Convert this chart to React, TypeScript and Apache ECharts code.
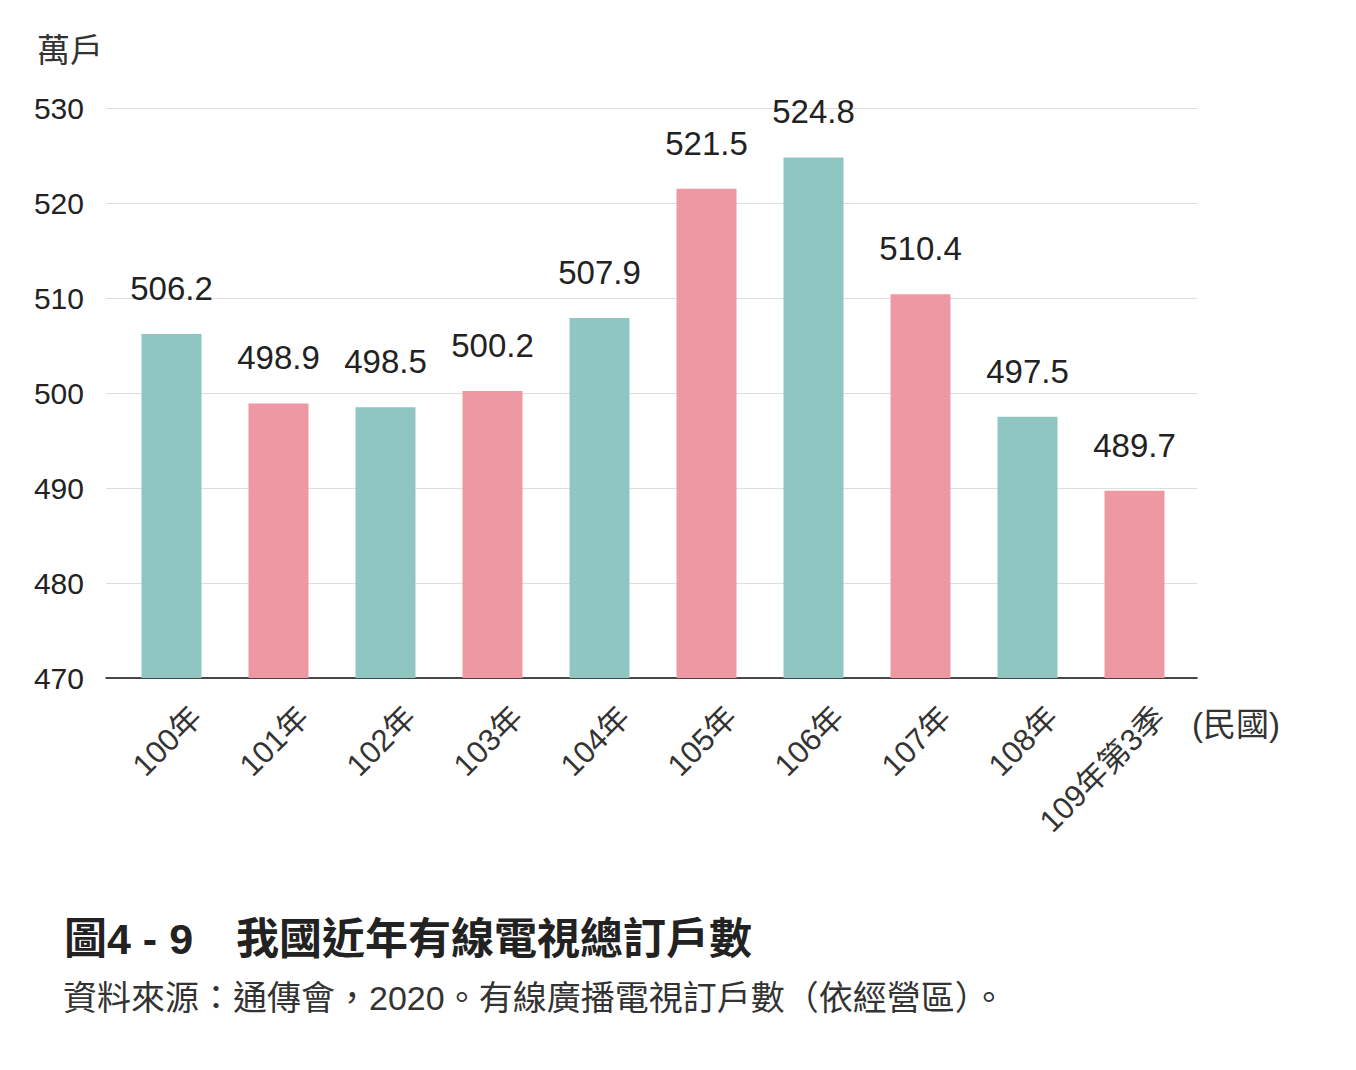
import React, { useEffect, useRef } from "react";
import * as echarts from "echarts";

const categories = ["100年", "101年", "102年", "103年", "104年", "105年", "106年", "107年", "108年", "109年第3季"];
const values = [506.2, 498.9, 498.5, 500.2, 507.9, 521.5, 524.8, 510.4, 497.5, 489.7];
const yMin = 470;
const yMax = 530;
const yStep = 10;
const unitLabel = "萬戶";
const xUnitLabel = "(民國)";
const title = "圖4 - 9　我國近年有線電視總訂戶數";
const source = "資料來源：通傳會，2020。有線廣播電視訂戶數（依經營區）。";

const TEAL = "#8fc6c2";
const PINK = "#ee98a3";
const FONT = '"Liberation Sans", "Noto Sans CJK TC", sans-serif';
const LABEL_SHIFT = 0.234;

export default function App() {
  const ref = useRef<HTMLDivElement>(null);
  useEffect(() => {
    if (!ref.current) return;
    const chart = echarts.init(ref.current, null, { renderer: "svg" });
    chart.setOption({
      animation: false,
      textStyle: { fontFamily: FONT },
      grid: { left: 98, right: 151, top: 100, height: 570 },
      xAxis: {
        type: "value",
        min: -0.612,
        max: 9.584,
        splitLine: { show: false },
        axisTick: { show: false },
        axisLine: { show: true, onZero: false, lineStyle: { color: "#111", width: 1.5 } },
        axisLabel: {
          customValues: categories.map((_, i) => i + LABEL_SHIFT),
          rotate: 45,
          margin: 34,
          fontSize: 31,
          color: "#333",
          fontFamily: FONT,
          formatter: (v: number) => categories[Math.round(v - LABEL_SHIFT)] ?? "",
        },
      },
      yAxis: {
        type: "value",
        min: yMin,
        max: yMax,
        interval: yStep,
        axisLine: { show: false },
        axisTick: { show: false },
        splitLine: { lineStyle: { color: "#dddddd", width: 1 } },
        axisLabel: { fontSize: 30, color: "#222", margin: 22, fontFamily: FONT, padding: [8, 0, 0, 0] },
      },
      series: [
        {
          type: "bar",
          barWidth: 60,
          data: values.map((v, i) => ({
            value: [i, v],
            itemStyle: { color: i % 2 === 0 ? TEAL : PINK },
          })),
          label: {
            show: true,
            position: "top",
            distance: 29,
            fontSize: 33,
            color: "#222",
            fontFamily: FONT,
            formatter: (p: any) => Number(p.value[1]).toFixed(1),
          },
        },
      ],
      graphic: [
        {
          type: "text",
          x: 29,
          y: 42,
          style: { text: unitLabel, font: `33px ${FONT}`, fill: "#333", align: "left", verticalAlign: "middle", textAlign: "left", textVerticalAlign: "middle" },
        },
        {
          type: "text",
          x: 1184,
          y: 716,
          style: { text: xUnitLabel, font: `33px ${FONT}`, fill: "#333", align: "left", verticalAlign: "middle", textAlign: "left", textVerticalAlign: "middle" },
        },
        {
          type: "text",
          x: 56,
          y: 931,
          style: { text: title, font: `bold 43px ${FONT}`, fill: "#222", align: "left", verticalAlign: "middle", textAlign: "left", textVerticalAlign: "middle" },
        },
        {
          type: "text",
          x: 55,
          y: 990,
          style: { text: source, font: `34px ${FONT}`, fill: "#333", align: "left", verticalAlign: "middle", textAlign: "left", textVerticalAlign: "middle" },
        },
      ],
    });
    return () => chart.dispose();
  }, []);
  return <div ref={ref} style={{ width: 1340, height: 1054 }} />;
}
